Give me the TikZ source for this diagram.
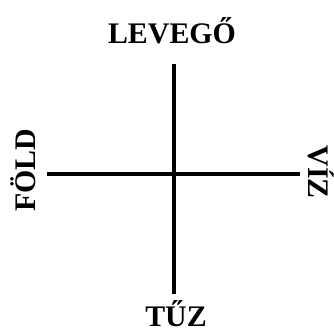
\documentclass[tikz,border=0pt]{standalone}
\usepackage{fontspec}
\setmainfont{Liberation Serif}
\usepackage{tikz}
\usetikzlibrary{positioning}

\begin{document}
\begin{tikzpicture}[
  x=1bp, y=-1bp,
  elem/.style={font=\bfseries\fontsize{30}{30}\selectfont, inner sep=0pt, anchor=base},
  axis/.style={line width=4.5bp},
]
\useasboundingbox (0,0) rectangle (334,331);
% ends of the cross
\coordinate (top) at (174,64);
\coordinate (bottom) at (174,294);
\coordinate (left) at (47,174);
\coordinate (right) at (300,174);
\draw[axis] (top) -- (bottom);
\draw[axis] (left) -- (right);
% Elements
\node[elem] (levego) at (172,43) {LEVEGŐ};
\node[elem] (tuz) at (176,326) {TŰZ};
\node[elem, rotate=90] (fold) at (35,170) {FÖLD};
\node[elem, rotate=-90] (viz) at (308,172) {VÍZ};
\end{tikzpicture}
\end{document}
